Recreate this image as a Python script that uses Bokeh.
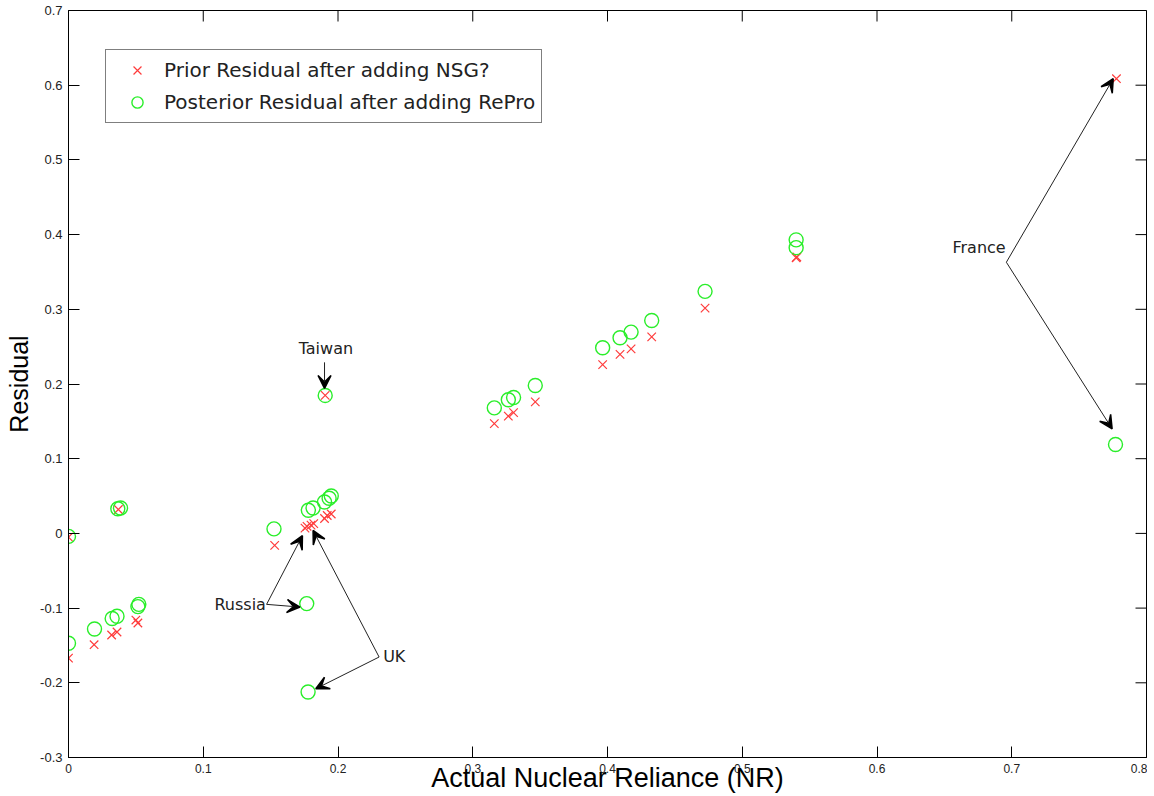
from bokeh.plotting import figure
from bokeh.models import (ColumnDataSource, LinearAxis, Range1d, FixedTicker, Arrow,
                          VeeHead, Label, Legend, LegendItem)
from bokeh.embed import file_html
from bokeh.resources import INLINE

# ---- data ----
prior_x = [0.000, 0.019, 0.032, 0.036, 0.050, 0.0515, 0.037, 0.000,
           0.153, 0.1755, 0.177, 0.180, 0.182, 0.190, 0.192, 0.195,
           0.1905, 0.316, 0.3264, 0.3303, 0.3464, 0.3964, 0.4093, 0.4175,
           0.4328, 0.4724, 0.540, 0.5405, 0.7777]
prior_y = [-0.167, -0.149, -0.136, -0.132, -0.116, -0.120, 0.032, -0.005,
           -0.016, 0.007, 0.0095, 0.011, 0.013, 0.020, 0.024, 0.026,
           0.1847, 0.147, 0.157, 0.1616, 0.176, 0.226, 0.2396, 0.247,
           0.263, 0.3016, 0.369, 0.370, 0.6087]

post_x = [0.000, 0.0193, 0.0324, 0.036, 0.0515, 0.0522, 0.0366, 0.0386, 0.000,
          0.1525, 0.1768, 0.1778, 0.178, 0.1815, 0.190, 0.1934, 0.195,
          0.1905, 0.316, 0.3264, 0.3303, 0.3464, 0.3964, 0.4093, 0.4175,
          0.4328, 0.4724, 0.540, 0.540, 0.777]
post_y = [-0.147, -0.128, -0.114, -0.111, -0.098, -0.095, 0.033, 0.034, -0.004,
          0.006, -0.094, -0.2124, 0.031, 0.034, 0.042, 0.047, 0.050,
          0.1847, 0.168, 0.179, 0.182, 0.198, 0.2486, 0.262, 0.2695,
          0.285, 0.324, 0.3825, 0.393, 0.119]

x_ticks = [0, 0.1, 0.2, 0.3, 0.4, 0.5, 0.6, 0.7, 0.8]
y_ticks = [-0.3, -0.2, -0.1, 0, 0.1, 0.2, 0.3, 0.4, 0.5, 0.6, 0.7]
x_tick_labels = ["0", "0.1", "0.2", "0.3", "0.4", "0.5", "0.6", "0.7", "0.8"]
y_tick_labels = ["-0.3", "-0.2", "-0.1", "0", "0.1", "0.2", "0.3", "0.4", "0.5", "0.6", "0.7"]

# annotation arrows: start -> end
arrow_x0 = [0.190, 0.147, 0.147, 0.2305, 0.2305, 0.696, 0.696]
arrow_y0 = [0.229, -0.095, -0.095, -0.1655, -0.1655, 0.363, 0.363]
arrow_x1 = [0.190, 0.1736, 0.1718, 0.1815, 0.1835, 0.7753, 0.7745]
arrow_y1 = [0.194, -0.003, -0.0986, 0.004, -0.208, 0.6087, 0.140]

ann_text = ["Taiwan", "Russia", "UK", "France"]
ann_x = [0.191, 0.1465, 0.2335, 0.6955]
ann_y = [0.2477, -0.095, -0.1647, 0.383]
ann_align = ["center", "right", "left", "right"]

x_label = "Actual Nuclear Reliance (NR)"
y_label = "Residual"
legend_labels = ["Prior Residual after adding NSG?", "Posterior Residual after adding RePro"]

X_MIN, X_MAX, Y_MIN, Y_MAX = 0.0, 0.8, -0.3, 0.7

# ---- figure ----
W, H = 1147, 796
ML, MR, MT, MB = 68, 1, 10, 39
p = figure(width=W, height=H, output_backend="svg", toolbar_location=None,
           x_range=Range1d(X_MIN, X_MAX), y_range=Range1d(Y_MIN, Y_MAX),
           x_axis_location=None, y_axis_location=None,
           min_border_left=ML, min_border_right=MR, min_border_top=MT, min_border_bottom=MB)
p.background_fill_color = "white"
p.border_fill_color = "white"
p.outline_line_color = "black"
p.outline_line_width = 1
p.xgrid.visible = False
p.ygrid.visible = False

TICK_LEN = 11  # px, inward
TICK_FONT = "Liberation Sans"


def make_axis(ticks, labels, title, standoff, tick_size, title_size):
    ax = LinearAxis(ticker=FixedTicker(ticks=ticks), axis_label=title)
    ax.major_label_overrides = {t: l for t, l in zip(ticks, labels)}
    ax.major_tick_in = TICK_LEN
    ax.major_tick_out = 0
    ax.minor_tick_in = 0
    ax.minor_tick_out = 0
    ax.axis_line_color = "black"
    ax.major_tick_line_color = "black"
    ax.major_label_text_font = TICK_FONT
    ax.major_label_text_color = "#222222"
    ax.major_label_text_font_size = tick_size
    ax.major_label_standoff = 6
    ax.axis_label_text_font = "Liberation Sans"
    ax.axis_label_text_font_size = title_size
    ax.axis_label_text_font_style = "normal"
    ax.axis_label_text_color = "black"
    ax.axis_label_standoff = standoff
    return ax


p.add_layout(make_axis(x_ticks, x_tick_labels, x_label, -13, "12px", "27px"), "below")
p.add_layout(make_axis(y_ticks, y_tick_labels, y_label, 4, "13px", "25px"), "left")

# mirrored inward ticks on the top and right edges of the box
frame_w = W - ML - MR
frame_h = H - MT - MB
dx_tick = TICK_LEN * (X_MAX - X_MIN) / frame_w
dy_tick = TICK_LEN * (Y_MAX - Y_MIN) / frame_h
p.segment(x0=x_ticks, y0=[Y_MAX] * len(x_ticks), x1=x_ticks,
          y1=[Y_MAX - dy_tick] * len(x_ticks), line_color="black", line_width=1)
p.segment(x0=[X_MAX] * len(y_ticks), y0=y_ticks, x1=[X_MAX - dx_tick] * len(y_ticks),
          y1=y_ticks, line_color="black", line_width=1)

src_prior = ColumnDataSource(dict(x=prior_x, y=prior_y))
src_post = ColumnDataSource(dict(x=post_x, y=post_y))

r_prior = p.scatter("x", "y", source=src_prior, marker="x", size=12,
                    line_color="#ff3b3b", line_width=1.2)
r_post = p.scatter("x", "y", source=src_post, marker="circle", size=14,
                   line_color="#2aee2a", fill_color=None, line_width=1.4)

for xs, ys, xe, ye in zip(arrow_x0, arrow_y0, arrow_x1, arrow_y1):
    p.add_layout(Arrow(x_start=xs, y_start=ys, x_end=xe, y_end=ye,
                       line_color="#222222", line_width=1,
                       end=VeeHead(size=13, fill_color="black", line_color="black",
                                   line_width=1.5)))

for t, x, y, a in zip(ann_text, ann_x, ann_y, ann_align):
    p.add_layout(Label(x=x, y=y, text=t, text_align=a, text_baseline="middle",
                       text_font="DejaVu Sans", text_font_size="16px",
                       text_color="#222222"))

legend = Legend(items=[LegendItem(label=legend_labels[0], renderers=[r_prior]),
                       LegendItem(label=legend_labels[1], renderers=[r_post])],
                location=(37, 634))
legend.border_line_color = "black"
legend.border_line_width = 1
legend.background_fill_color = "white"
legend.background_fill_alpha = 1
legend.label_text_font = "DejaVu Sans"
legend.label_text_font_size = "20px"
legend.label_text_color = "#222222"
legend.label_height = 28
legend.glyph_height = 28
legend.glyph_width = 50
legend.label_standoff = 2
legend.spacing = 4
legend.padding = 6
legend.margin = 0
p.add_layout(legend)

open("out.html", "w").write(file_html(p, INLINE))
